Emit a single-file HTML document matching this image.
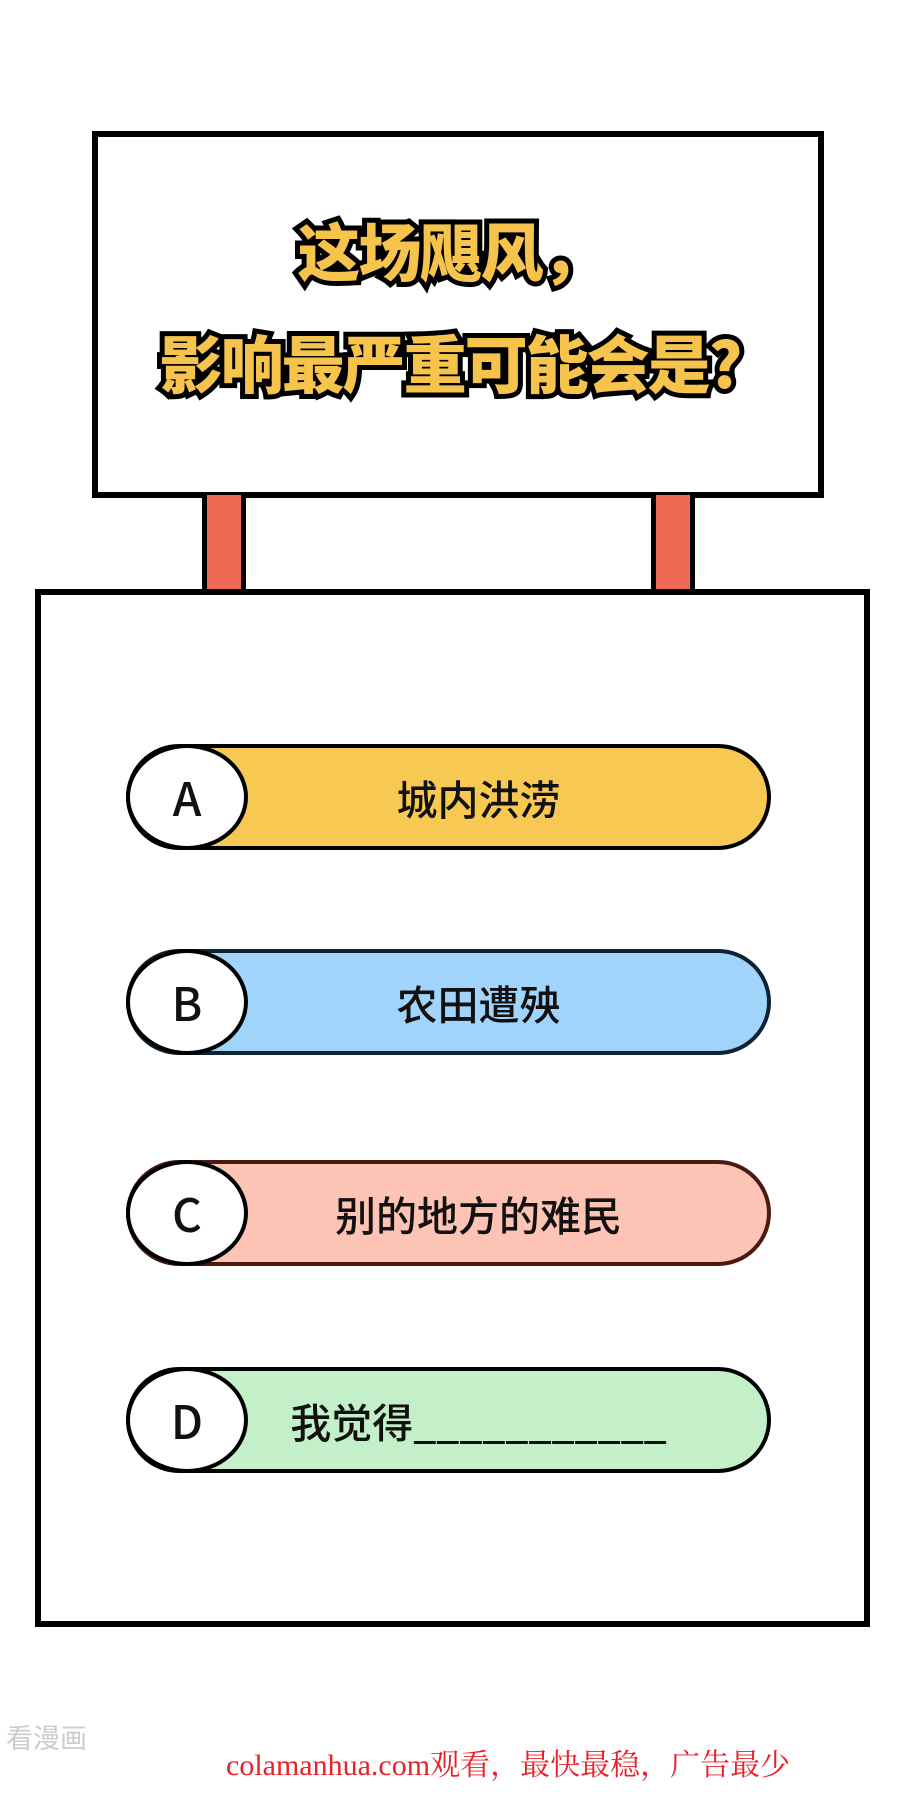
<!DOCTYPE html>
<html><head><meta charset="utf-8"><style>
body{margin:0;width:900px;height:1813px;background:#fff;position:relative;overflow:hidden;font-family:"Liberation Sans","Noto Sans CJK SC",sans-serif}
.abs{position:absolute;box-sizing:border-box}
.sign{left:92px;top:131px;width:732px;height:367px;border:6px solid #000;background:#fff}
.post{top:495px;width:44px;height:97px;background:#ee6a55;border:5px solid #000;border-top:none;border-bottom:none}
.main{left:35px;top:589px;width:835px;height:1038px;border:6px solid #000;background:#fff}
.title{left:0;width:900px;text-align:center;font-weight:900;font-size:63px;color:#f6c34d;-webkit-text-stroke:10px #000;paint-order:stroke fill;font-family:"Noto Sans CJK SC",sans-serif;letter-spacing:-2px}
.pill{left:126px;width:645px;height:106px;border:4px solid #000;border-radius:53px}
.pill span{position:absolute;left:60px;right:0;top:0;bottom:0;display:flex;align-items:center;justify-content:center;font-size:41px;font-weight:500;color:#111;font-family:"Noto Sans CJK SC",sans-serif}
.circ{left:126px;width:122px;height:106px;border:4px solid #000;border-radius:50%;background:#fff;display:flex;align-items:center;justify-content:center;font-size:46px;font-weight:500;color:#111;font-family:"Noto Sans CJK SC",sans-serif}
</style></head><body>
<div class="abs sign"></div>
<div class="abs post" style="left:202px"></div>
<div class="abs post" style="left:651px"></div>
<div class="abs title" style="top:204px">这场飓风，</div>
<div class="abs title" style="top:316px">影响最严重可能会是?</div>
<div class="abs main"></div>

<div class="abs pill" style="top:744px;background:#f7c952"><span>城内洪涝</span></div>
<div class="abs circ" style="top:744px">A</div>
<div class="abs pill" style="top:949px;background:#a0d4fb;border-color:#0d2233"><span>农田遭殃</span></div>
<div class="abs circ" style="top:949px">B</div>
<div class="abs pill" style="top:1160px;background:#fdc3b4;border-color:#4a1a10"><span>别的地方的难民</span></div>
<div class="abs circ" style="top:1160px">C</div>
<div class="abs pill" style="top:1367px;background:#c3f0c8"><span>我觉得___________</span></div>
<div class="abs circ" style="top:1367px">D</div>

<div class="abs" style="left:6px;top:1717px;font-size:27px;color:#ccc;font-family:'Noto Sans CJK SC',sans-serif">看漫画</div>
<div class="abs" style="left:226px;top:1740px;font-size:30px;color:#e8212a;font-family:'Liberation Serif','Noto Serif CJK SC',serif;white-space:nowrap">colamanhua.com观看，最快最稳，广告最少</div>
</body></html>
